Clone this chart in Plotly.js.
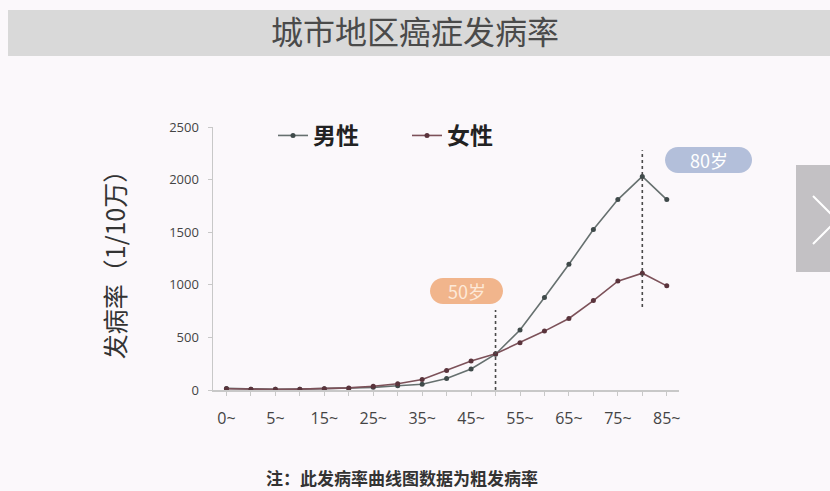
<!DOCTYPE html>
<html>
<head>
<meta charset="utf-8">
<script src="https://cdn.plot.ly/plotly-3.0.1.min.js"></script>
<style>
  html, body { margin: 0; padding: 0; background: #fbf8fb; }
  #chart { width: 830px; height: 491px; }
</style>
</head>
<body>
<div id="chart"></div>
<script>
// Age groups (years) and crude incidence per 100,000
const ageGroups = ['0~', '1~', '5~', '10~', '15~', '20~', '25~', '30~', '35~', '40~',
                   '45~', '50~', '55~', '60~', '65~', '70~', '75~', '80~', '85~'];
const maleRate   = [15, 8, 7, 8, 12, 15, 25, 40, 55, 110, 200, 340, 570, 880, 1195, 1525, 1810, 2030, 1810];
const femaleRate = [12, 7, 6, 8, 12, 20, 35, 60, 100, 185, 275, 345, 450, 560, 680, 850, 1035, 1110, 990];
const seriesNames = ['男性', '女性'];

// Highlighted ages
const markedAges   = ['50~', '80~'];
const markedLabels = ['50岁', '80岁'];
const markedSpans  = [[0, 760], [790, 2280]];

const yTicks = [0, 500, 1000, 1500, 2000, 2500];

// Plot-area geometry (pixels) used to place decorations
const M = { l: 213, r: 151, t: 127, b: 101 };
const W = 830 - M.l - M.r, H = 491 - M.t - M.b;
const px = x => (x - M.l) / W;
const py = y => (491 - M.b - y) / H;

function pillPath(x0, y0, x1, y1) {
  const r = (y1 - y0) / 2, ym = (y0 + y1) / 2;
  const P = (x, y) => px(x).toFixed(4) + ',' + py(y).toFixed(4);
  return 'M' + P(x0 + r, y0) + ' L' + P(x1 - r, y0) +
         ' C' + P(x1 - r * 0.45, y0) + ' ' + P(x1, ym - r * 0.55) + ' ' + P(x1, ym) +
         ' C' + P(x1, ym + r * 0.55) + ' ' + P(x1 - r * 0.45, y1) + ' ' + P(x1 - r, y1) +
         ' L' + P(x0 + r, y1) +
         ' C' + P(x0 + r * 0.45, y1) + ' ' + P(x0, ym + r * 0.55) + ' ' + P(x0, ym) +
         ' C' + P(x0, ym - r * 0.55) + ' ' + P(x0 + r * 0.45, y0) + ' ' + P(x0 + r, y0) + ' Z';
}

const traces = [
  {
    x: ageGroups, y: maleRate, name: seriesNames[0], type: 'scatter', mode: 'lines+markers',
    line: { color: '#66706f', width: 1.6 },
    marker: { color: '#3f4a4a', size: 5 }
  },
  {
    x: ageGroups, y: femaleRate, name: seriesNames[1], type: 'scatter', mode: 'lines+markers',
    line: { color: '#7c5159', width: 1.6 },
    marker: { color: '#5a343c', size: 5 }
  }
];

const shapes = [
  // title band
  { type: 'rect', xref: 'paper', yref: 'paper', layer: 'below', line: { width: 0 },
    x0: px(8), x1: px(832), y0: py(56), y1: py(10), fillcolor: '#d9d9d9' },
  // next-arrow box
  { type: 'rect', xref: 'paper', yref: 'paper', line: { width: 0 },
    x0: px(796), x1: px(832), y0: py(272), y1: py(165), fillcolor: '#c3c1c4' },
  { type: 'path', xref: 'paper', yref: 'paper', line: { color: '#ffffff', width: 2 },
    path: 'M' + px(813) + ',' + py(196) + ' L' + px(837) + ',' + py(220) + ' L' + px(813) + ',' + py(244) },
  // pills behind the age labels
  { type: 'path', xref: 'paper', yref: 'paper', layer: 'below', line: { width: 0 }, fillcolor: '#f1b58c',
    path: pillPath(430, 278, 503, 304) },
  { type: 'path', xref: 'paper', yref: 'paper', layer: 'below', line: { width: 0 }, fillcolor: '#b3bfda',
    path: pillPath(665, 147, 752, 173) }
];

markedAges.forEach((age, i) => {
  shapes.push({
    type: 'line', xref: 'x', yref: 'y', x0: age, x1: age,
    y0: markedSpans[i][0], y1: markedSpans[i][1],
    line: { color: '#4a4a4a', width: 1.6, dash: 'dot' }
  });
});

const annotations = [
  { xref: 'paper', yref: 'paper', x: px(466.5), y: py(291), xanchor: 'center', yanchor: 'middle',
    text: markedLabels[0], showarrow: false,
    font: { family: 'Noto Sans CJK SC', size: 18, color: '#fde9d8' } },
  { xref: 'paper', yref: 'paper', x: px(708.5), y: py(160), xanchor: 'center', yanchor: 'middle',
    text: markedLabels[1], showarrow: false,
    font: { family: 'Noto Sans CJK SC', size: 18, color: '#ffffff' } },
  { xref: 'paper', yref: 'paper', x: px(402), y: py(477), xanchor: 'center', yanchor: 'middle',
    text: '注：此发病率曲线图数据为粗发病率', showarrow: false,
    font: { family: 'Noto Sans CJK SC', size: 17, color: '#333333', weight: 'bold' } }
];

const layout = {
  width: 830, height: 491,
  margin: M,
  paper_bgcolor: '#fbf8fb',
  plot_bgcolor: 'rgba(0,0,0,0)',
  font: { family: 'Noto Sans CJK SC, Open Sans, sans-serif', color: '#444444' },
  title: {
    text: '城市地区癌症发病率',
    x: 0.5, xanchor: 'center', xref: 'container',
    y: 1 - 33 / 491, yanchor: 'middle', yref: 'container',
    font: { family: 'Noto Sans CJK SC', size: 32, color: '#4a4a4a' }
  },
  showlegend: true,
  legend: {
    orientation: 'h', x: px(273), y: py(114), xanchor: 'left', yanchor: 'top',
    font: { family: 'Noto Sans CJK SC', size: 23, color: '#222222', weight: 'bold' },
    itemwidth: 30, entrywidth: 89, entrywidthmode: 'pixels',
    bgcolor: 'rgba(0,0,0,0)'
  },
  xaxis: {
    type: 'category', range: [-0.55, 18.5],
    tickmode: 'array', tickvals: ageGroups,
    ticktext: ageGroups.map((a, i) => (i % 2 === 0 ? a : '')),
    showline: true, linecolor: '#c8c8c8', linewidth: 1.5,
    ticks: 'outside', ticklen: 4, tickcolor: '#c8c8c8',
    showgrid: false, zeroline: false,
    tickfont: { family: 'Open Sans', size: 16, color: '#444444' },
    ticklabelstandoff: 9
  },
  yaxis: {
    range: [0, 2500], tickvals: yTicks,
    showline: true, linecolor: '#c8c8c8', linewidth: 1.5,
    ticks: 'outside', ticklen: 4, tickcolor: '#c8c8c8',
    showgrid: false, zeroline: false,
    tickfont: { family: 'Open Sans', size: 13, color: '#444444' },
    ticklabelstandoff: 6,
    title: { text: '发病率（1/10万）', standoff: 36,
             font: { family: 'Noto Sans CJK SC', size: 25, color: '#333333' } }
  },
  shapes: shapes,
  annotations: annotations
};

Plotly.newPlot('chart', traces, layout, { displayModeBar: false, staticPlot: true });
</script>
</body>
</html>
